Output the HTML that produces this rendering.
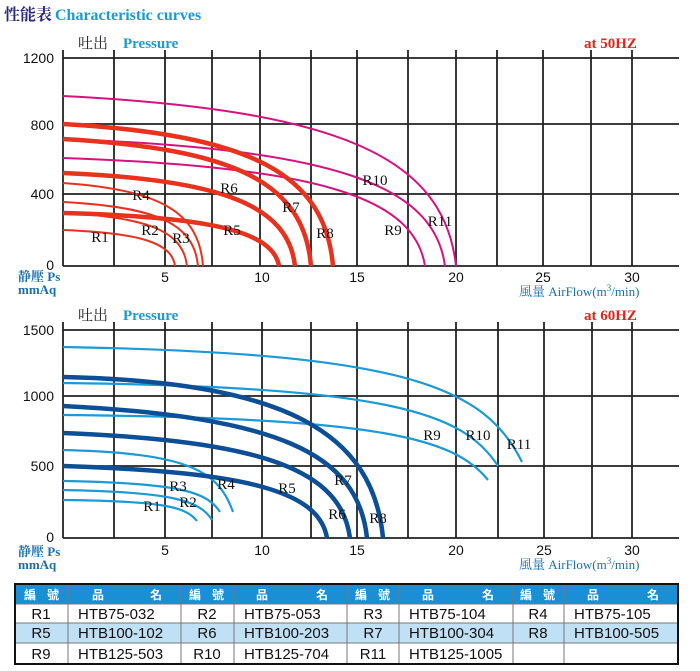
<!DOCTYPE html>
<html><head><meta charset="utf-8"><style>
body{margin:0;background:#fff;width:700px;height:671px;overflow:hidden;}
svg{display:block}
</style></head><body>
<svg width="700" height="671" xmlns="http://www.w3.org/2000/svg">
<g font-family="Liberation Serif, Noto Serif CJK SC, serif" font-weight="bold">
<text x="4" y="20" font-size="16" fill="#2b2a78">性能表</text>
<text x="55" y="20" font-size="16" fill="#1a9ad6">Characteristic curves</text>
<text x="78" y="48" font-size="15" fill="#222" font-weight="normal" font-family="Noto Serif CJK SC, serif">吐出</text>
<text x="123" y="48" font-size="15" fill="#1a9ad6">Pressure</text>
<text x="584" y="48" font-size="15" fill="#e0251b">at  50HZ</text>
<text x="78" y="320" font-size="15" fill="#222" font-weight="normal" font-family="Noto Serif CJK SC, serif">吐出</text>
<text x="123" y="320" font-size="15" fill="#1a9ad6">Pressure</text>
<text x="584" y="320" font-size="15" fill="#e0251b">at  60HZ</text>
<text x="18" y="281" font-size="13" fill="#1a6fb0">静壓 Ps</text>
<text x="18" y="294" font-size="13" fill="#1a6fb0">mmAq</text>
<text x="18" y="556" font-size="13" fill="#1a6fb0">静壓 Ps</text>
<text x="18" y="569" font-size="13" fill="#1a6fb0">mmAq</text>
<text x="519" y="296" font-size="13" fill="#1a6fb0" font-weight="normal">風量  AirFlow(m<tspan dy="-5" font-size="9">3</tspan><tspan dy="5">/min)</tspan></text>
<text x="519" y="569" font-size="13" fill="#1a6fb0" font-weight="normal">風量  AirFlow(m<tspan dy="-5" font-size="9">3</tspan><tspan dy="5">/min)</tspan></text>
</g>
<g stroke="#222" stroke-width="1.8" fill="none">
<path d="M63 50V266M114 50V266M165 50V266M212 50V266M260 50V266M311 50V266M357 50V266M408 50V266M456 50V266M497 50V266M543 50V266M591 50V266M632 50V266"/>
<path d="M63 58H679M63 124H679M63 194H679M63 266H679"/>
<path d="M63 322V538M114 322V538M165 322V538M212 322V538M262 322V538M311 322V538M357 322V538M408 322V538M456 322V538M498 322V538M544 322V538M592 322V538M632 322V538"/>
<path d="M63 330H679M63 396H679M63 466H679M63 538H679"/>
</g>
<g font-family="Liberation Sans, sans-serif" font-size="14" fill="#111">
<g text-anchor="end"><text x="54" y="63">1200</text><text x="54" y="130">800</text><text x="54" y="199">400</text><text x="54" y="270">0</text>
<text x="54" y="335">1500</text><text x="54" y="401">1000</text><text x="54" y="471">500</text><text x="54" y="542">0</text></g>
<g text-anchor="middle"><text x="165" y="282">5</text><text x="262" y="282">10</text><text x="357" y="282">15</text><text x="456" y="282">20</text><text x="543" y="282">25</text><text x="632" y="282">30</text>
<text x="165" y="555">5</text><text x="262" y="555">10</text><text x="357" y="555">15</text><text x="456" y="555">20</text><text x="544" y="555">25</text><text x="632" y="555">30</text></g>
</g>
<g fill="none" stroke="#d6127f" stroke-width="2">
<path d="M63 158C316 167 414 196 425 266"/>
<path d="M63 139C330 149 434 183 445 266"/>
<path d="M63 96C338 110 444 156 456 266"/>
</g>
<g fill="none" stroke="#e8321e" stroke-width="2">
<path d="M63 230C141 233 172 243 175 266"/>
<path d="M63 213C150 217 183 232 187 266"/>
<path d="M63 202C158 207 194 224 198 266"/>
<path d="M63 183C161 190 199 212 203 266"/>
</g>
<g fill="none" stroke="#e8321e" stroke-width="4.5">
<path d="M63 213C214 217 273 232 279 266"/>
<path d="M63 173C225 180 288 206 295 266"/>
<path d="M63 139C237 149 304 183 311 266"/>
<path d="M63 124C252 135 325 174 333 266"/>
</g>
<g fill="none" stroke="#1a9ad6" stroke-width="2.2">
<path d="M63 500C164 501 186 507 197 521"/>
<path d="M63 490C175 492 200 501 212 520"/>
<path d="M63 481C181 483 207 492 220 512"/>
<path d="M63 450C191 453 219 472 233 512"/>
<path d="M63 415C382 418 454 438 488 480"/>
<path d="M63 383C389 387 463 412 498 466"/>
<path d="M63 347C407 353 485 387 522 462"/>
</g>
<g fill="none" stroke="#0d4f96" stroke-width="4.5">
<path d="M63 466C248 472 319 491 327 538"/>
<path d="M63 433C264 441 341 470 350 538"/>
<path d="M63 406C276 417 358 452 367 538"/>
<path d="M63 377C287 382 373 433 383 538"/>
</g>
<g font-family="Liberation Serif, serif" font-size="15" fill="#111" text-anchor="middle">
<text x="100" y="242">R1</text><text x="150" y="235">R2</text><text x="181" y="243">R3</text><text x="141" y="200">R4</text>
<text x="232" y="235">R5</text><text x="229" y="193">R6</text><text x="291" y="212">R7</text><text x="325" y="238">R8</text>
<text x="375" y="185">R10</text><text x="393" y="235">R9</text><text x="440" y="226">R11</text>
<text x="152" y="511">R1</text><text x="188" y="507">R2</text><text x="178" y="491">R3</text><text x="226" y="489">R4</text>
<text x="287" y="493">R5</text><text x="337" y="519">R6</text><text x="343" y="485">R7</text><text x="378" y="523">R8</text>
<text x="432" y="440">R9</text><text x="478" y="440">R10</text><text x="519" y="449">R11</text>
</g>
<rect x="15" y="584" width="663" height="20" fill="#1a8fd6"/>
<rect x="15" y="623" width="663" height="20" fill="#bfe0f5"/>
<g stroke="#777" stroke-width="1">
<path d="M15 604H678M15 623H678M15 643H678"/>
<path d="M68 584V664M181 584V664M234 584V664M347 584V664M399 584V664M513 584V664M564 584V664"/>
</g>
<rect x="15" y="584" width="663" height="80" fill="none" stroke="#111" stroke-width="2"/>
<g font-family="Noto Sans CJK TC, sans-serif" font-size="12" font-weight="bold" fill="#fff">
<text x="24" y="599">編</text><text x="47" y="599">號</text><text x="92" y="599">品</text><text x="150" y="599">名</text>
<text x="189" y="599">編</text><text x="212" y="599">號</text><text x="256" y="599">品</text><text x="316" y="599">名</text>
<text x="355" y="599">編</text><text x="378" y="599">號</text><text x="422" y="599">品</text><text x="482" y="599">名</text>
<text x="520" y="599">編</text><text x="543" y="599">號</text><text x="587" y="599">品</text><text x="647" y="599">名</text>
</g>
<g font-family="Liberation Sans, sans-serif" font-size="15" fill="#111">
<g text-anchor="middle">
<text x="41" y="619">R1</text><text x="207" y="619">R2</text><text x="373" y="619">R3</text><text x="538" y="619">R4</text>
<text x="41" y="638">R5</text><text x="207" y="638">R6</text><text x="373" y="638">R7</text><text x="538" y="638">R8</text>
<text x="41" y="659">R9</text><text x="207" y="659">R10</text><text x="373" y="659">R11</text>
</g>
<text x="78" y="619">HTB75-032</text><text x="244" y="619">HTB75-053</text><text x="409" y="619">HTB75-104</text><text x="574" y="619">HTB75-105</text>
<text x="78" y="638">HTB100-102</text><text x="244" y="638">HTB100-203</text><text x="409" y="638">HTB100-304</text><text x="574" y="638">HTB100-505</text>
<text x="78" y="659">HTB125-503</text><text x="244" y="659">HTB125-704</text><text x="409" y="659">HTB125-1005</text>
</g>
</svg>
</body></html>
